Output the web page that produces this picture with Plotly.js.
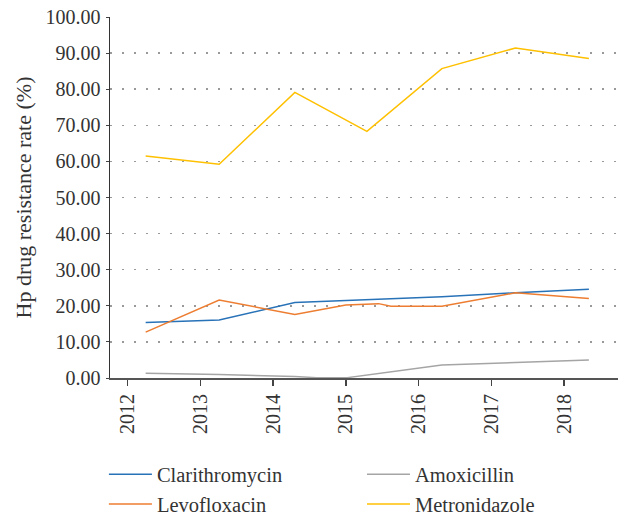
<!DOCTYPE html>
<html>
<head>
<meta charset="utf-8">
<script src="https://cdn.plot.ly/plotly-3.0.1.min.js"></script>
<style>html,body{margin:0;padding:0;background:#fff;}#chart{width:618px;height:515px;}</style>
</head>
<body>
<div id="chart"></div>
<script>
// Data
const yearTicks = [2012, 2013, 2014, 2015, 2016, 2017, 2018];
const yearTickLabels = ["2012", "2013", "2014", "2015", "2016", "2017", "2018"];
const pointYears = [2012.25, 2013.26, 2014.3, 2015.29, 2016.32, 2017.33, 2018.34];
const clarithromycin = [15.4, 16.1, 20.9, 21.6, 22.5, 23.6, 24.6];
const levoYears = [2012.25, 2013.26, 2014.3, 2015.0, 2015.45, 2015.62, 2016.32, 2017.33, 2018.34];
const levofloxacin = [12.7, 21.6, 17.6, 20.2, 20.6, 19.9, 19.9, 23.6, 22.0];
const amoxYears = [2012.25, 2013.26, 2014.3, 2014.6, 2015.02, 2016.32, 2017.33, 2018.34];
const amoxicillin = [1.3, 1.0, 0.4, 0.1, 0.1, 3.6, 4.3, 5.0];
const metronidazole = [61.5, 59.2, 79.1, 68.3, 85.7, 91.4, 88.5];
const yTicks = [0, 10, 20, 30, 40, 50, 60, 70, 80, 90, 100];
const yTickLabels = ["0.00", "10.00", "20.00", "30.00", "40.00", "50.00", "60.00", "70.00", "80.00", "90.00", "100.00"];

const FONT = "'Liberation Serif', 'DejaVu Serif', serif";

const traces = [
  {x: pointYears, y: clarithromycin, name: "Clarithromycin", mode: "lines",
   line: {color: "#2872B8", width: 1.5}, legend: "legend", legendgroup: "a"},
  {x: levoYears, y: levofloxacin, name: "Levofloxacin", mode: "lines",
   line: {color: "#ED7D31", width: 1.5}, legend: "legend", legendgroup: "b"},
  {x: amoxYears, y: amoxicillin, name: "Amoxicillin", mode: "lines",
   line: {color: "#A5A5A5", width: 1.5}, legend: "legend2", legendgroup: "c"},
  {x: pointYears, y: metronidazole, name: "Metronidazole", mode: "lines",
   line: {color: "#FFC000", width: 1.5}, legend: "legend2", legendgroup: "d"}
];

const legendCommon = {
  orientation: "v", yanchor: "top", xanchor: "left", y: -0.212,
  font: {family: FONT, size: 20.5, color: "#333"}, itemwidth: 43,
  traceorder: "grouped", tracegroupgap: 0, bgcolor: "rgba(0,0,0,0)"
};

const layout = {
  width: 618, height: 515,
  margin: {l: 110, r: 0, t: 17, b: 136.5, autoexpand: false},
  paper_bgcolor: "#fff", plot_bgcolor: "#fff",
  font: {family: FONT, color: "#333", size: 17},
  showlegend: true,
  legend: Object.assign({}, legendCommon, {x: -0.012}),
  legend2: Object.assign({}, legendCommon, {x: 0.496}),
  xaxis: {
    range: [2011.76, 2018.74], tickmode: "array", tickvals: yearTicks, ticktext: yearTickLabels,
    tickangle: -90, ticks: "outside", ticklen: 6, tickwidth: 1.5, tickcolor: "#444",
    showline: true, linecolor: "#555", linewidth: 2, showgrid: false, zeroline: false,
    tickfont: {family: FONT, size: 20, color: "#333"}
  },
  yaxis: {
    range: [0, 100], tickmode: "array", tickvals: yTicks, ticktext: yTickLabels,
    ticks: "outside", ticklen: 3, tickwidth: 1, tickcolor: "#444", ticklabelstandoff: 1,
    showline: true, linecolor: "#333", linewidth: 1.5, zeroline: false,
    showgrid: true, gridcolor: "#999", gridwidth: 1.5, griddash: "1.5px,10.5px",
    tickfont: {family: FONT, size: 20, color: "#333"},
    title: {text: "Hp drug resistance rate (%)", font: {family: FONT, size: 22, color: "#333"}, standoff: 8}
  }
};

Plotly.newPlot("chart", traces, layout, {displayModeBar: false, staticPlot: true});
</script>
</body>
</html>
